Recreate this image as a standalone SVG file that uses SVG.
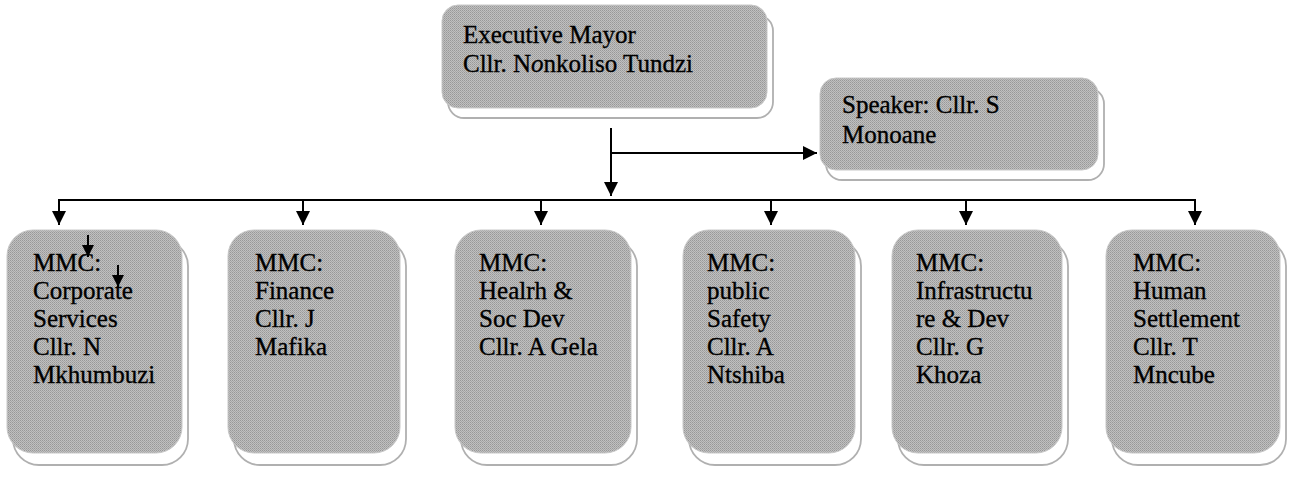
<svg xmlns="http://www.w3.org/2000/svg" width="1291" height="479" viewBox="0 0 1291 479">
<defs>
<pattern id="dither" width="2" height="2" patternUnits="userSpaceOnUse">
<rect width="2" height="2" fill="#c0c0c0"/>
<rect width="1" height="1" fill="#989898"/>
<rect x="1" y="1" width="1" height="1" fill="#a6a6a6"/>
</pattern>
<marker id="ah" markerWidth="14" markerHeight="14" refX="14" refY="7" orient="auto" markerUnits="userSpaceOnUse">
<path d="M0,0 L14,7 L0,14 Z" fill="#000"/>
</marker>
<marker id="ahs" markerWidth="12" markerHeight="12" refX="12" refY="6" orient="auto" markerUnits="userSpaceOnUse">
<path d="M0,0 L12,6 L0,12 Z" fill="#000"/>
</marker>
</defs>
<style>
.box{fill:url(#dither);stroke:#c8c8c8;stroke-width:1}
.shadow{fill:#fff;stroke:#b0b0b0;stroke-width:1.8}
.t{font-family:"Liberation Serif","Times New Roman",serif;font-size:25px;fill:#000;stroke:#000;stroke-width:0.35}
.c{fill:none;stroke:#000;stroke-width:2}
</style>
<rect width="1291" height="479" fill="#fff"/>
<g id="mayor">
<rect class="shadow" x="448" y="15" width="325" height="103" rx="16"/>
<rect class="box" x="442" y="5" width="325" height="103" rx="16"/>
<text class="t" x="463" y="43">Executive Mayor</text>
<text class="t" x="463" y="72">Cllr. N<tspan font-style="italic">o</tspan>nkoliso Tundzi</text>
</g>
<g id="speaker">
<rect class="shadow" x="826" y="88" width="278" height="92" rx="16"/>
<rect class="box" x="820" y="78" width="278" height="92" rx="16"/>
<text class="t" x="842" y="113">Speaker: Cllr. S</text>
<text class="t" x="842" y="143">Monoane</text>
</g>
<g id="mmc-corporate">
<rect class="shadow" x="13" y="240" width="175" height="225" rx="26"/>
<rect class="box" x="7" y="230" width="175" height="223" rx="26"/>
<text class="t" x="33" y="271">MMC:</text>
<text class="t" x="33" y="299">Corporate</text>
<text class="t" x="33" y="327">Services</text>
<text class="t" x="33" y="355">Cllr. N</text>
<text class="t" x="33" y="383">Mkhumbuzi</text>
</g>
<g id="mmc-finance">
<rect class="shadow" x="234" y="240" width="172" height="225" rx="26"/>
<rect class="box" x="228" y="230" width="172" height="223" rx="26"/>
<text class="t" x="255" y="271">MMC:</text>
<text class="t" x="255" y="299">Finance</text>
<text class="t" x="255" y="327">Cllr. J</text>
<text class="t" x="255" y="355">Mafika</text>
</g>
<g id="mmc-health">
<rect class="shadow" x="461" y="240" width="176" height="225" rx="26"/>
<rect class="box" x="455" y="230" width="176" height="223" rx="26"/>
<text class="t" x="479" y="271">MMC:</text>
<text class="t" x="479" y="299">Healrh &amp;</text>
<text class="t" x="479" y="327">Soc Dev</text>
<text class="t" x="479" y="355">Cllr. A Gela</text>
</g>
<g id="mmc-safety">
<rect class="shadow" x="689" y="240" width="172" height="225" rx="26"/>
<rect class="box" x="683" y="230" width="172" height="223" rx="26"/>
<text class="t" x="707" y="271">MMC:</text>
<text class="t" x="707" y="299">public</text>
<text class="t" x="707" y="327">Safety</text>
<text class="t" x="707" y="355">Cllr. A</text>
<text class="t" x="707" y="383">Ntshiba</text>
</g>
<g id="mmc-infrastructure">
<rect class="shadow" x="898" y="240" width="170" height="225" rx="26"/>
<rect class="box" x="892" y="230" width="170" height="223" rx="26"/>
<text class="t" x="916" y="271">MMC:</text>
<text class="t" x="916" y="299">Infrastructu</text>
<text class="t" x="916" y="327">re &amp; Dev</text>
<text class="t" x="916" y="355">Cllr. G</text>
<text class="t" x="916" y="383">Khoza</text>
</g>
<g id="mmc-human-settlement">
<rect class="shadow" x="1112" y="240" width="174" height="225" rx="26"/>
<rect class="box" x="1106" y="230" width="174" height="223" rx="26"/>
<text class="t" x="1133" y="271">MMC:</text>
<text class="t" x="1133" y="299">Human</text>
<text class="t" x="1133" y="327">Settlement</text>
<text class="t" x="1133" y="355">Cllr. T</text>
<text class="t" x="1133" y="383">Mncube</text>
</g>
<g id="connectors">
<path class="c" d="M611,128 V196" marker-end="url(#ah)"/>
<path class="c" d="M611,153 H817" marker-end="url(#ah)"/>
<path class="c" d="M58,200 H1196"/>
<path class="c" d="M59,200 V225" marker-end="url(#ah)"/>
<path class="c" d="M303,200 V225" marker-end="url(#ah)"/>
<path class="c" d="M541,200 V225" marker-end="url(#ah)"/>
<path class="c" d="M771,200 V225" marker-end="url(#ah)"/>
<path class="c" d="M966,200 V225" marker-end="url(#ah)"/>
<path class="c" d="M1195,200 V225" marker-end="url(#ah)"/>
<path class="c" d="M88,235 V257" marker-end="url(#ahs)"/>
<path class="c" d="M118,265 V287" marker-end="url(#ahs)"/>
</g>
</svg>
